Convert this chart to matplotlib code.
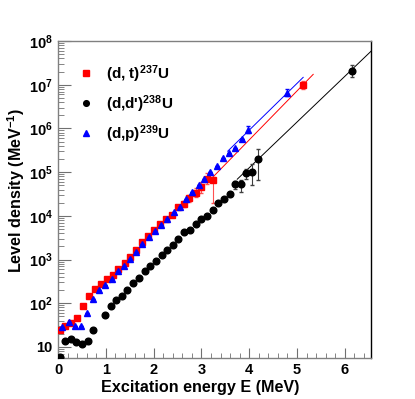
import numpy as np
import matplotlib
matplotlib.use("Agg")
import matplotlib.pyplot as plt
from matplotlib.ticker import FixedLocator, MultipleLocator, LogLocator, FuncFormatter, NullFormatter

plt.rcParams['font.family'] = ['Liberation Sans', 'DejaVu Sans']
plt.rcParams['font.weight'] = 'bold'
plt.rcParams['mathtext.fontset'] = 'custom'
plt.rcParams['mathtext.rm'] = 'Liberation Sans:bold'
plt.rcParams['mathtext.it'] = 'Liberation Sans:bold'
plt.rcParams['mathtext.bf'] = 'Liberation Sans:bold'
plt.rcParams['mathtext.default'] = 'rm'

# (d,t) 237U
e_dt = [0.03, 0.15, 0.28, 0.40, 0.53, 0.65, 0.77, 0.90, 1.02, 1.15, 1.26, 1.39, 1.51, 1.64,
        1.76, 1.89, 2.01, 2.14, 2.26, 2.38, 2.51, 2.63, 2.75, 2.88, 2.99, 3.12, 3.24, 5.12]
rho_dt = [24.5, 30.7, 35.4, 46.9, 88, 149, 216, 272, 360, 436, 600, 836, 1167, 1660,
          2570, 3525, 4700, 6350, 8490, 10640, 15730, 18700, 25300, 34000, 45100, 71000, 66400, 9.9e6]
lo_dt = [0]*20 + [0.05, 0.06, 0.08, 0.10, 0.12, 0.12, 0.53, 0.09]
hi_dt = [0]*20 + [0.05, 0.06, 0.08, 0.10, 0.12, 0.12, 0.06, 0.09]

# (d,d') 238U
e_dd = [0.03, 0.15, 0.26, 0.38, 0.50, 0.63, 0.74, 0.98, 1.10, 1.22, 1.33, 1.45, 1.57, 1.69,
        1.81, 1.93, 2.05, 2.17, 2.29, 2.40, 2.52, 2.64, 2.76, 2.88, 2.99, 3.12, 3.24, 3.35,
        3.47, 3.59, 3.71, 3.83, 3.94, 4.06, 4.18, 6.15]
rho_dd = [6.0, 13.5, 15.5, 13.2, 11.5, 13.7, 24.5, 54.8, 88, 117, 144, 201, 291, 373,
          540, 710, 905, 1280, 1660, 2160, 3010, 4290, 4680, 6530, 8360, 9950, 13650, 20000,
          24400, 31700, 52800, 52800, 94500, 101000, 197000, 2.1e7]
lo_dd = [0]*28 + [0.03, 0.04, 0.10, 0.17, 0.13, 0.29, 0.47, 0.15]
hi_dd = [0]*28 + [0.03, 0.04, 0.08, 0.10, 0.10, 0.19, 0.23, 0.12]

# (d,p) 239U
e_dp = [0.08, 0.22, 0.35, 0.47, 0.60, 0.74, 0.86, 0.99, 1.13, 1.26, 1.38, 1.51, 1.64, 1.76,
        1.90, 2.02, 2.15, 2.27, 2.42, 2.55, 2.68, 2.81, 2.94, 3.06, 3.19, 3.33, 3.45, 3.58,
        3.71, 3.84, 3.97, 4.80]
rho_dp = [28.7, 37.9, 30.3, 30.8, 60, 128, 198, 258, 360, 540, 726, 1014, 1468, 2240,
          3340, 4580, 6300, 8630, 12080, 16250, 24000, 35800, 50100, 71000, 99300, 141000,
          211000, 270000, 358000, 566000, 940000, 6.6e6]
lo_dp = [0]*30 + [0.08, 0.075]
hi_dp = [0]*30 + [0.08, 0.075]

# exponential fits: log10(rho) = a + b*E over [e0, e1]
fit_dt = (1.258, 1.12, 3.20, 5.34)
fit_dd = (0.916, 1.046, 3.75, 6.60)
fit_dp = (1.681, 1.07, 3.55, 5.13)


def yerr(rho, lo, hi):
    rho = np.array(rho)
    return [rho - rho / 10**np.array(lo), rho * 10**np.array(hi) - rho]


fig = plt.figure(figsize=(4.15, 3.99), dpi=100)
ax = fig.add_axes([0.14, 0.103, 0.754, 0.794])

for fit, c in [(fit_dt, 'red'), (fit_dd, 'black'), (fit_dp, 'blue')]:
    a, b, e0, e1 = fit
    xx = np.linspace(e0, e1, 50)
    ax.plot(xx, 10**(a + b*xx), color=c, lw=0.7, zorder=2)

h_dt = ax.errorbar(e_dt, rho_dt, yerr=yerr(rho_dt, lo_dt, hi_dt), fmt='s', color='red',
                   ecolor='#ff5050', elinewidth=0.8, capsize=1.5, ms=4.8, zorder=3)
h_dd = ax.errorbar(e_dd, rho_dd, yerr=yerr(rho_dd, lo_dd, hi_dd), fmt='o', color='black',
                   ecolor='#404040', elinewidth=0.8, capsize=1.5, ms=4.8, zorder=3)
h_dp = ax.errorbar(e_dp, rho_dp, yerr=yerr(rho_dp, lo_dp, hi_dp), fmt='^', color='blue',
                   ecolor='blue', elinewidth=0.8, capsize=1.5, ms=4.5, zorder=4)

ax.set_yscale('log')
ax.set_xlim(0, 6.55)
ax.set_ylim(5.6, 1e8)

ax.xaxis.set_major_locator(MultipleLocator(1))
ax.xaxis.set_minor_locator(MultipleLocator(0.2))
ax.yaxis.set_major_locator(FixedLocator([10**k for k in range(1, 9)]))
ax.yaxis.set_minor_locator(LogLocator(base=10, subs=np.arange(2, 10)))
ax.yaxis.set_minor_formatter(NullFormatter())


def fmt_pow(v, pos):
    k = int(round(np.log10(v)))
    return '10' if k == 1 else r'$10^{%d}$' % k


ax.yaxis.set_major_formatter(FuncFormatter(fmt_pow))
ax.tick_params(which='both', direction='in', top=False, right=False, labelsize=10.5,
               color='#707070', pad=4)
ax.tick_params(axis='y', which='major', length=9)
ax.tick_params(axis='y', which='minor', length=4.5)
ax.tick_params(axis='x', which='major', length=7)
ax.tick_params(axis='x', which='minor', length=3.5)
for lab in ax.get_xticklabels() + ax.get_yticklabels():
    lab.set_fontweight('bold')

for s in ['left', 'bottom', 'top']:
    ax.spines[s].set_color('#808080')
ax.spines['right'].set_color('black')
for s in ax.spines.values():
    s.set_linewidth(1.0)

ax.set_xlabel('Excitation energy E (MeV)', fontsize=11.6, fontweight='bold', labelpad=1)
ax.set_ylabel(r'Level density (MeV$^{-1}$)', fontsize=11.6, fontweight='bold')
ax.xaxis.set_label_coords(0.455, -0.07)
ax.yaxis.set_label_coords(-0.1, 0.53)

leg = ax.legend([h_dt[0], h_dd[0], h_dp[0]],
                [r'(d, t)$^{237}$U', r"(d,d')$^{238}$U", r'(d,p)$^{239}$U'],
                loc='upper left', bbox_to_anchor=(0.045, 0.955), frameon=False,
                fontsize=11, handlelength=0.8, handletextpad=0.9, labelspacing=0.55,
                borderpad=0, markerscale=0.85)
for t in leg.get_texts():
    t.set_fontweight('bold')

fig.savefig('out.png', dpi=100)
